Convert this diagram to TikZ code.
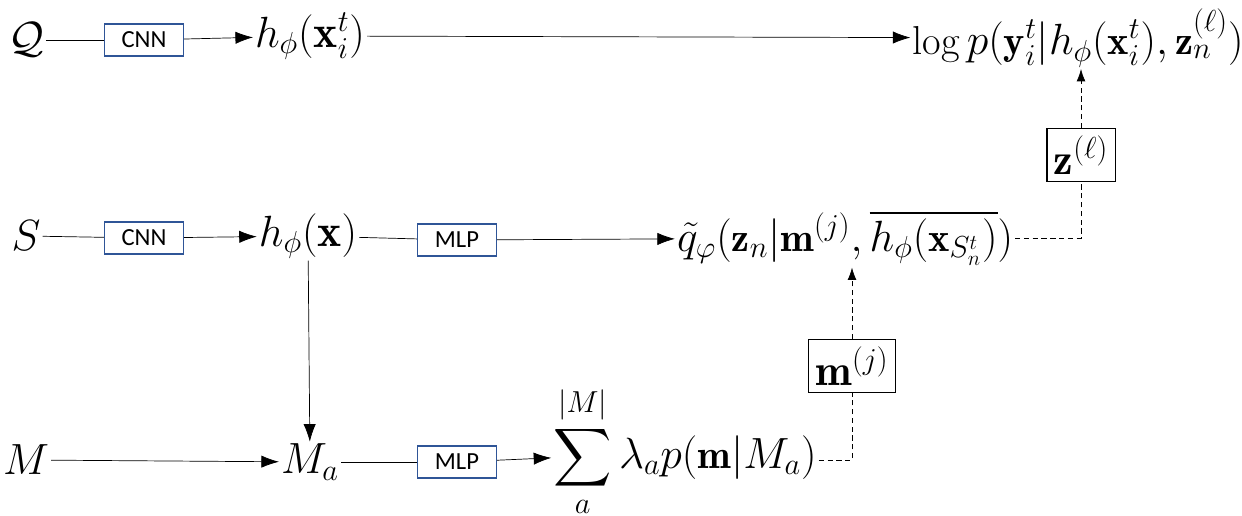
\documentclass[tikz,border=0pt]{standalone}
\usepackage{amsmath,amssymb}
\usepackage{fontspec}
\newfontfamily\boxfont{Carlito}
\usetikzlibrary{arrows.meta}
\definecolor{boxblue}{HTML}{2F5597}
\tikzset{
  netbox/.style={draw=boxblue, thick, minimum width=1.58cm, minimum height=0.64cm, inner sep=0pt, font=\boxfont\fontsize{14}{16}\selectfont},
  var/.style={inner sep=1pt, font=\fontsize{26}{30}\selectfont},
  eqn/.style={inner sep=1pt, font=\fontsize{23}{27}\selectfont},
  flow/.style={-{Latex[length=10pt,width=7pt]}, thin},
  hidden/.style={densely dashed, -{Latex[length=7pt,width=5pt]}, thin},
  latbox/.style={draw, thick, inner sep=4pt, font=\fontsize{25}{30}\selectfont}
}
\begin{document}
\begin{tikzpicture}[x=0.02cm, y=-0.02cm]
      \useasboundingbox (0,0) rectangle (1242,516);

      % Inputs
      \node[var] (Q) at (26,40) {$\mathcal{Q}$};
      \node[var] (S) at (26,236) {$S$};
      \node[var] (M) at (26,460) {$M$};

      % Networks
      \node[netbox] (cnnQ) at (144,40) {CNN};
      \node[netbox] (cnnS) at (144,238) {CNN};
      \node[netbox] (mlpS) at (457,240) {MLP};
      \node[netbox] (mlpM) at (457,462) {MLP};

      % Features
      \node[var] (hq) at (310,36) {$h_\phi(\mathbf{x}_i^t)$};
      \node[var] (hs) at (308,236) {$h_\phi(\mathbf{x})$};
      \node[var] (Ma) at (310,462) {$M_a$};

      % Outputs
      \node[eqn] (lik) at (1078,38) {$\log p(\mathbf{y}_i^t|h_\phi(\mathbf{x}_i^t),\mathbf{z}_n^{(\ell)})$};
      \node[eqn] (qt) at (845,238) {$\tilde q_\varphi(\mathbf{z}_n|\mathbf{m}^{(j)},\overline{h_\phi(\mathbf{x}_{S_n^t})})$};
      \node[eqn] (mix) at (685,452) {$\displaystyle\sum_{a}^{|M|}\lambda_a p(\mathbf{m}|M_a)$};

      % Latents
      \node[latbox] (zl) at (1081,155) {$\mathbf{z}^{(\ell)}$};
      \node[latbox] (mj) at (852,366) {$\mathbf{m}^{(j)}$};

      % Arcs
      \draw (Q) -- (cnnQ);
      \draw[flow] (cnnQ) -- (hq);
      \draw[flow] (hq) -- (lik);
      \draw (S) -- (cnnS);
      \draw[flow] (cnnS) -- (hs);
      \draw (hs) -- (mlpS);
      \draw[flow] (mlpS) -- (qt);
      \draw[flow] (hs) -- (Ma);
      \draw[flow] (M) -- (Ma);
      \draw (Ma) -- (mlpM);
      \draw[flow] (mlpM) -- (mix);

      % Dashed links
      \draw[densely dashed] (qt.east) -| (zl.south);
      \draw[hidden] (zl.north) -- (zl.north |- lik.south);
      \draw[densely dashed] (mix.east |- 0,460) -| (mj.south);
      \draw[hidden] (mj.north) -- (mj.north |- qt.south);
\end{tikzpicture}
\end{document}
